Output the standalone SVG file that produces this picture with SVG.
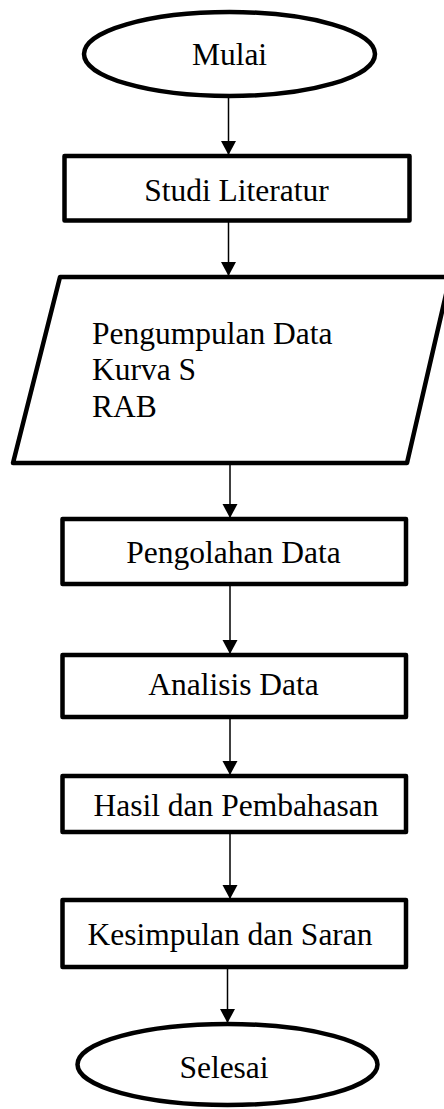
<svg xmlns="http://www.w3.org/2000/svg" width="444" height="1109" viewBox="0 0 444 1109">
<defs>
<style>
.shape{fill:#fff;stroke:#000;stroke-width:4.5;stroke-linejoin:round}
.lbl{font-family:"Liberation Serif","Times New Roman",serif;font-size:31.5px;fill:#000}
.mid{text-anchor:middle}
.conn line{stroke:#000;stroke-width:1.5;marker-end:url(#ah)}
</style>
<marker id="ah" markerUnits="userSpaceOnUse" markerWidth="16" markerHeight="16" refX="14" refY="7.5" orient="auto">
<path d="M0,0 L14,7.5 L0,15 z" fill="#000"/>
</marker>
</defs>
<rect width="444" height="1109" fill="#fff"/>
<g id="connectors" class="conn">
<line x1="228.5" y1="97" x2="228.5" y2="155"/>
<line x1="228.5" y1="222" x2="228.5" y2="276"/>
<line x1="230" y1="465" x2="230" y2="518"/>
<line x1="230" y1="586" x2="230" y2="654"/>
<line x1="230" y1="719" x2="230" y2="775"/>
<line x1="230" y1="834" x2="230" y2="899"/>
<line x1="227.5" y1="969" x2="227.5" y2="1023"/>
</g>
<g id="mulai">
<ellipse class="shape" cx="229.5" cy="54" rx="145.5" ry="42"/>
<text class="lbl mid" x="229.5" y="65">Mulai</text>
</g>
<g id="studi-literatur">
<rect class="shape" x="64.5" y="156" width="345" height="64.5"/>
<text class="lbl mid" x="236.5" y="201">Studi Literatur</text>
</g>
<g id="pengumpulan-data">
<polygon class="shape" points="60,277 450,277 407,463 13,463"/>
<text class="lbl" x="92" y="344">Pengumpulan Data</text>
<text class="lbl" x="92" y="380">Kurva S</text>
<text class="lbl" x="92" y="417">RAB</text>
</g>
<g id="pengolahan-data">
<rect class="shape" x="62.5" y="519" width="343.5" height="65"/>
<text class="lbl mid" x="233.5" y="563">Pengolahan Data</text>
</g>
<g id="analisis-data">
<rect class="shape" x="62.5" y="655" width="343.5" height="62"/>
<text class="lbl mid" x="233.5" y="695">Analisis Data</text>
</g>
<g id="hasil-pembahasan">
<rect class="shape" x="62.5" y="776" width="343.5" height="56"/>
<text class="lbl mid" x="236" y="816">Hasil dan Pembahasan</text>
</g>
<g id="kesimpulan-saran">
<rect class="shape" x="62.5" y="900" width="343.5" height="67"/>
<text class="lbl mid" x="230" y="945">Kesimpulan dan Saran</text>
</g>
<g id="selesai">
<ellipse class="shape" cx="227.5" cy="1064.5" rx="150" ry="40.5"/>
<text class="lbl mid" x="224" y="1078">Selesai</text>
</g>
</svg>
